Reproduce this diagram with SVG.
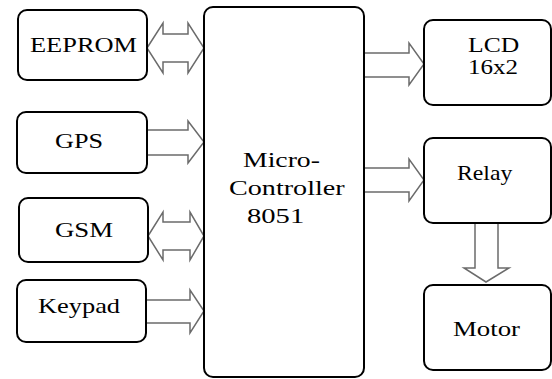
<svg xmlns="http://www.w3.org/2000/svg" width="552" height="379" viewBox="0 0 552 379">
<style>
.box{fill:#fff;stroke:#000;stroke-width:2}
.arr{fill:#fff;stroke:#6b6b6b;stroke-width:1.5;stroke-linejoin:miter}
</style>
<rect width="552" height="379" fill="#fff"/>
<g id="connectors">
<path class="arr" d="M147,48 L163,23 L163,34 L188,34 L188,23 L204,48 L188,73 L188,62 L163,62 L163,73 Z"/>
<path class="arr" d="M147,130 L188,130 L188,121 L204,142 L188,163 L188,155 L147,155"/>
<path class="arr" d="M148,236 L163,212 L163,222 L190,222 L190,212 L204,236 L190,260 L190,250 L163,250 L163,260 Z"/>
<path class="arr" d="M146,300 L190,300 L190,290 L204,311 L190,333 L190,323 L146,323"/>
<path class="arr" d="M364,53 L409,53 L409,43 L424,64 L409,85 L409,77 L364,77"/>
<path class="arr" d="M364,168 L409,168 L409,159 L424,180 L409,201 L409,192 L364,192"/>
<path class="arr" d="M475,223 L475,268 L464,268 L486,282 L509,268 L498,268 L498,223"/>
</g>
<g font-family="Liberation Serif" font-size="22" fill="#000">
<g id="eeprom"><rect class="box" x="18" y="10" width="129" height="70" rx="9"/><text transform="translate(30,52) scale(1.2,1)">EEPROM</text></g>
<g id="gps"><rect class="box" x="17" y="112" width="130" height="61" rx="9"/><text transform="translate(55,148) scale(1.19,1)">GPS</text></g>
<g id="gsm"><rect class="box" x="19" y="198" width="129" height="64" rx="9"/><text transform="translate(55,237) scale(1.22,1)">GSM</text></g>
<g id="keypad"><rect class="box" x="17" y="280" width="129" height="62" rx="9"/><text transform="translate(38,313) scale(1.2,1)">Keypad</text></g>
<g id="mcu"><rect class="box" x="204" y="7" width="160" height="370" rx="9"/>
<text transform="translate(243,167) scale(1.26,1)">Micro-</text>
<text transform="translate(229,195) scale(1.28,1)">Controller</text>
<text transform="translate(247,223) scale(1.3,1)">8051</text></g>
<g id="lcd"><rect class="box" x="424" y="20" width="127" height="85" rx="9"/><text font-size="20" transform="translate(468,52) scale(1.28,1)">LCD</text><text font-size="20" transform="translate(468,74) scale(1.25,1)">16x2</text></g>
<g id="relay"><rect class="box" x="424" y="138" width="127" height="85" rx="9"/><text transform="translate(457,180) scale(1.08,1)">Relay</text></g>
<g id="motor"><rect class="box" x="424" y="285" width="127" height="85" rx="9"/><text transform="translate(453,336) scale(1.22,1)">Motor</text></g>
</g>
</svg>
